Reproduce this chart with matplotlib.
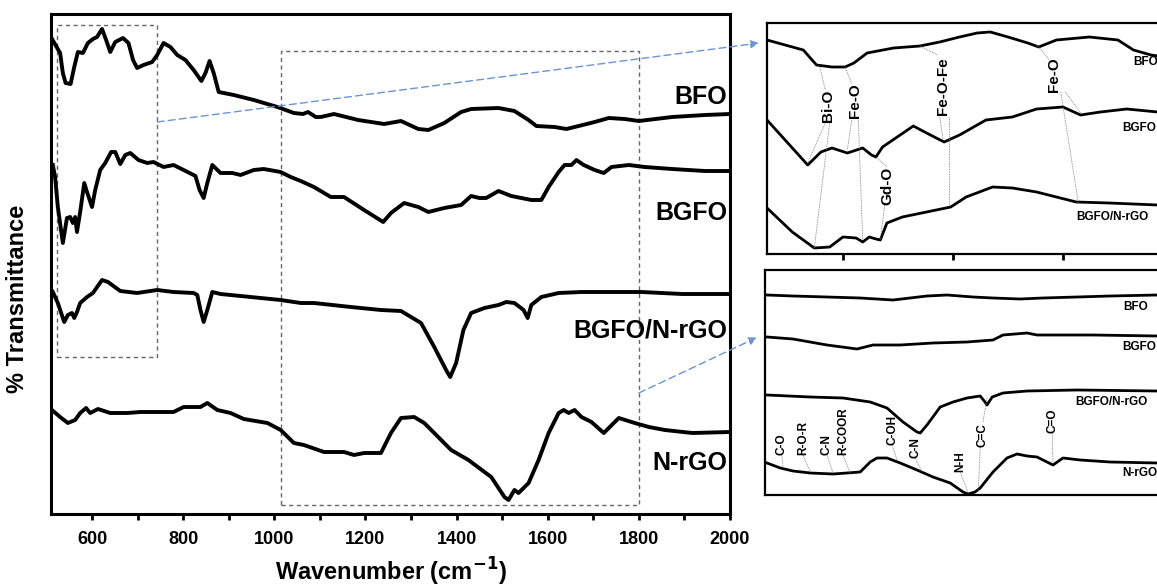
import numpy as np
import matplotlib
matplotlib.use('Agg')
import matplotlib.pyplot as plt
from matplotlib.patches import Rectangle, ConnectionPatch

plt.rcParams['font.family'] = ['Liberation Sans', 'DejaVu Sans']
plt.rcParams['font.weight'] = 'bold'

# ---- main spectra (wavenumber, offset transmittance, arb. units) ----
bfo_wn = [511, 530, 536, 542, 553, 561, 569, 580, 591, 602, 611, 622, 631, 640, 651, 668, 680, 690,
          699, 713, 732, 743, 757, 772, 787, 805, 823, 840, 849, 858, 867, 878, 911, 955, 1007, 1043,
          1063, 1074, 1091, 1102, 1131, 1184, 1241, 1278, 1316, 1338, 1373, 1410, 1432, 1492, 1527,
          1558, 1575, 1615, 1641, 1668, 1703, 1734, 1769, 1800, 1873, 1945, 2000]
bfo_t = [476, 461, 441, 431, 430, 447, 462, 461, 471, 475, 477, 485, 474, 462, 472, 476, 471, 454,
         446, 449, 452, 459, 471, 467, 459, 454, 444, 433, 441, 453, 441, 422, 419, 414, 407, 401,
         400, 402, 397, 397, 400, 394, 390, 393, 385, 384, 391, 402, 405, 406, 403,
         394, 388, 387, 385, 388, 392, 396, 395, 393, 397, 399, 400]

bgfo_wn = [514, 519, 525, 536, 545, 552, 558, 563, 567, 574, 583, 589, 600, 607, 618, 629, 642, 651,
           662, 673, 684, 702, 721, 735, 757, 779, 801, 827, 836, 845, 853, 864, 882, 908, 926, 955,
           977, 1014, 1036, 1058, 1087, 1124, 1153, 1197, 1239, 1256, 1285, 1316, 1338, 1373, 1410,
           1432, 1450, 1465, 1492, 1520, 1564, 1586, 1602, 1624, 1637, 1652, 1663, 1679, 1703, 1723,
           1740, 1778, 1813, 1873, 1945, 2000]
bgfo_t = [349, 337, 307, 271, 296, 297, 291, 297, 282, 302, 331, 322, 307, 324, 344, 351, 362, 362,
          350, 359, 361, 354, 351, 352, 347, 349, 344, 338, 324, 316, 331, 349, 341, 341, 339, 344,
          345, 342, 337, 333, 327, 317, 317, 304, 292, 301, 311, 307, 302, 306, 309,
          318, 316, 316, 323, 318, 314, 314, 327, 342, 349, 349, 354, 349, 344, 341,
          347, 349, 347, 345, 343, 343]

comp_wn = [514, 525, 539, 547, 556, 561, 567, 574, 589, 602, 622, 635, 662, 699, 743, 779, 823, 831,
           838, 845, 853, 864, 882, 948, 1014, 1058, 1087, 1168, 1234, 1278, 1322, 1351, 1377, 1386,
           1399, 1415, 1432, 1461, 1492, 1509, 1527, 1547, 1556, 1564, 1586, 1624, 1674, 1747, 1806,
           1895, 2000]
comp_t = [222, 211, 192, 199, 201, 196, 202, 211, 217, 221, 234, 232, 223, 221, 224, 222, 221, 219,
          204, 192, 204, 222, 220, 217, 214, 211, 211, 207, 204, 203, 191, 167, 144, 137,
          151, 184, 201, 206, 209, 212, 211, 204, 196, 209, 217, 221, 222, 222, 222,
          220, 220]

nrgo_wn = [512, 530, 547, 563, 574, 587, 596, 613, 640, 677, 706, 779, 801, 838, 853, 875, 904, 933,
           985, 1014, 1043, 1065, 1109, 1153, 1175, 1197, 1234, 1256, 1278, 1307, 1329, 1351, 1388,
           1426, 1476, 1505, 1514, 1527, 1536, 1558, 1580, 1602, 1624, 1635, 1646, 1659, 1674, 1696,
           1723, 1756, 1791, 1822, 1857, 1917, 2000]
nrgo_t = [104, 97, 91, 94, 101, 106, 101, 105, 101, 101, 102, 102, 107, 107, 111, 104, 101, 95,
          91, 84, 71, 69, 62, 62, 59, 61, 61, 81, 96, 97, 91, 81, 64,
          54, 37, 17, 14, 24, 21, 31, 54, 81, 101, 104, 101, 104, 97, 92,
          81, 96, 91, 87, 84, 81, 82]

main_labels = ['BFO', 'BGFO', 'BGFO/N-rGO', 'N-rGO']
main_label_y = [417, 301, 184, 51]

# ---- inset 1 : low wavenumber region ----
in1_bfo_wn = [515.5, 532, 538, 545, 551, 555, 561, 573, 585, 594, 603, 611, 617, 625, 634, 639, 647,
              662, 675, 682, 690, 693, 700]
in1_bfo_t = [214, 204, 189, 187, 187, 191, 201, 206, 208, 212, 217, 221, 222, 217, 211, 207, 214,
             217, 214, 204, 199, 198, 197]
in1_bgfo_wn = [515.5, 534, 540, 545, 552, 559, 563, 565, 568, 576, 582, 588, 596, 603, 615, 627, 638,
               650, 658, 667, 679, 693, 700]
in1_bgfo_t = [134, 89, 102, 106, 101, 106, 99, 97, 107, 119, 128, 121, 112, 119, 134, 137, 145,
              147, 139, 142, 145, 142, 142]
in1_comp_wn = [515.5, 527, 537, 544, 550, 556, 559, 562, 565, 567, 570, 577, 588, 599, 606, 618, 627,
               638, 656, 671, 693, 700]
in1_comp_t = [46, 22, 6, 7, 17, 16, 12, 17, 15, 14, 31, 37, 42, 47, 57, 67, 66,
              62, 52, 51, 49, 49]
in1_names = ['BFO', 'BGFO', 'BGFO/N-rGO']
in1_name_x = [682, 677, 656]
in1_name_y = [192, 126, 37]
in1_bands = ['Bi-O', 'Fe-O', 'Fe-O-Fe', 'Fe-O', 'Gd-O']
in1_band_x = [543, 555.5, 595.5, 646, 570]
in1_band_y = [132, 136, 139, 162, 49]
in1_leaders = [((539.5, 187), (542, 164)), ((542, 131), (534, 91)), ((544, 131), (537, 6)),
               ((551, 187), (554, 170)), ((554, 134), (552, 104)), ((557, 134), (559, 14)),
               ((585, 208), (593, 199)), ((594, 137), (595.5, 114)), ((598, 137), (598, 49)),
               ((638, 209), (644, 194)), ((651, 162), (658, 141)), ((649, 162), (657, 51)),
               ((570, 87), (565, 97)), ((569, 49), (567, 14))]

# ---- inset 2 : 1000-2000 cm-1 region ----
in2_bfo_wn = [1005, 1070, 1155, 1238, 1320, 1405, 1455, 1520, 1570, 1638, 1695, 1780, 1863, 1980, 2020]
in2_bfo_t = [200, 199, 198, 197, 195, 199, 200, 198, 197, 196, 197, 198, 199, 200, 200]
in2_bgfo_wn = [1005, 1070, 1155, 1230, 1270, 1338, 1420, 1505, 1570, 1595, 1655, 1680, 1738, 1820,
               1980, 2020]
in2_bgfo_t = [158, 156, 150, 146, 150, 150, 152, 153, 155, 160, 162, 160, 160, 160, 159, 159]
in2_comp_wn = [1005, 1113, 1195, 1263, 1305, 1345, 1380, 1388, 1405, 1438, 1470, 1505, 1538, 1550,
               1555, 1568, 1595, 1655, 1780, 1980, 2020]
in2_comp_t = [100, 98, 97, 93, 87, 73, 63, 62, 70, 88, 93, 97, 99, 93, 90, 98, 102, 104, 105, 104, 104]
in2_nrgo_wn = [1005, 1038, 1070, 1113, 1170, 1205, 1238, 1263, 1280, 1305, 1338, 1380, 1420, 1463,
               1495, 1508, 1525, 1538, 1570, 1605, 1630, 1655, 1680, 1720, 1745, 1788, 1863, 1980, 2020]
in2_nrgo_t = [32, 27, 24, 22, 21, 22, 23, 33, 37, 37, 32, 25, 18, 12, 3, 1, 3, 7, 23, 37, 41, 39, 38,
              30, 37, 35, 33, 32, 32]
in2_names = ['BFO', 'BGFO', 'BGFO/N-rGO', 'N-rGO']
in2_name_x = [1895, 1893, 1775, 1893]
in2_name_y = [188, 148, 93, 22]
in2_bands = ['C-O', 'R-O-R', 'C-N', 'R-COOR', 'C-OH', 'C-N', 'N-H', 'C=C', 'C=O']
in2_band_x = [1042, 1095, 1155, 1195, 1318, 1375, 1488, 1543, 1718]
in2_band_y = [40, 40, 40, 40, 50, 37, 23, 48, 62]
in2_leaders = [((1042, 40), (1045, 28)), ((1095, 40), (1113, 23)), ((1155, 40), (1170, 22)),
               ((1195, 40), (1213, 22)), ((1318, 50), (1330, 35)), ((1375, 37), (1393, 23)),
               ((1488, 23), (1508, 2)), ((1545, 73), (1555, 97)), ((1538, 48), (1533, 3)),
               ((1718, 62), (1720, 32))]

W, H = 1157, 586
fig = plt.figure(figsize=(W / 100, H / 100), dpi=100)

# main axes
ax = fig.add_axes([51 / W, 72 / H, 679 / W, 500 / H])
for wn, t in [(bfo_wn, bfo_t), (bgfo_wn, bgfo_t), (comp_wn, comp_t), (nrgo_wn, nrgo_t)]:
    ax.plot(wn, t, color='black', lw=2.8, solid_joinstyle='round')
ax.set_xlim(510, 2000)
ax.set_ylim(0, 500)
ax.set_yticks([])
ax.set_xticks(np.arange(600, 2001, 200))
ax.set_xticks(np.arange(700, 2000, 200), minor=True)
ax.tick_params(axis='x', which='both', direction='out', length=4, width=2, labelsize=13, pad=8)
for lab in ax.get_xticklabels():
    lab.set_fontweight('bold')
for sp in ax.spines.values():
    sp.set_linewidth(2.2)
ax.set_xlabel('Wavenumber (cm$^{\\mathbf{-1}}$)', fontsize=17, fontweight='bold', labelpad=6)
ax.set_ylabel('% Transmittance', fontsize=17, fontweight='bold')
ax.yaxis.set_label_coords(-0.032, 0.43)
for name, y in zip(main_labels, main_label_y):
    ax.text(1994, y, name, ha='right', va='center', fontsize=18, fontweight='bold')

box_style = dict(fill=False, ec='#666666', lw=1.0, ls=(0, (3, 2.5)))
ax.add_patch(Rectangle((523, 157), 220, 332, **box_style))
ax.add_patch(Rectangle((1014, 9), 786, 454, **box_style))

# inset 1
ax1 = fig.add_axes([767 / W, (H - 254) / H, 406 / W, 231 / H])
for wn, t in [(in1_bfo_wn, in1_bfo_t), (in1_bgfo_wn, in1_bgfo_t), (in1_comp_wn, in1_comp_t)]:
    ax1.plot(wn, t, color='black', lw=2.0, solid_joinstyle='round')
ax1.set_xlim(515.5, 700)
ax1.set_ylim(0, 231)
ax1.set_yticks([])
ax1.set_xticks([550, 600, 650])
ax1.set_xticklabels([])
ax1.tick_params(axis='x', direction='out', length=4, width=2)
for sp in ax1.spines.values():
    sp.set_linewidth(1.6)
for name, x, y in zip(in1_names, in1_name_x, in1_name_y):
    ax1.text(x, y, name, ha='left', va='center', fontsize=8.5, fontweight='bold', clip_on=False)
for (p0, p1) in in1_leaders:
    ax1.plot([p0[0], p1[0]], [p0[1], p1[1]], color='#777777', lw=0.6, ls=(0, (1, 1)))
for name, x, y in zip(in1_bands, in1_band_x, in1_band_y):
    ax1.text(x, y, name, rotation=90, ha='center', va='bottom', fontsize=11, fontweight='bold')

# inset 2
ax2 = fig.add_axes([765 / W, (H - 495) / H, 408 / W, 225 / H])
for wn, t in [(in2_bfo_wn, in2_bfo_t), (in2_bgfo_wn, in2_bgfo_t), (in2_comp_wn, in2_comp_t),
              (in2_nrgo_wn, in2_nrgo_t)]:
    ax2.plot(wn, t, color='black', lw=2.0, solid_joinstyle='round')
ax2.set_xlim(1000, 2020)
ax2.set_ylim(0, 225)
ax2.set_xticks([])
ax2.set_yticks([])
for sp in ax2.spines.values():
    sp.set_linewidth(1.6)
for name, x, y in zip(in2_names, in2_name_x, in2_name_y):
    ax2.text(x, y, name, ha='left', va='center', fontsize=8.5, fontweight='bold')
for (p0, p1) in in2_leaders:
    ax2.plot([p0[0], p1[0]], [p0[1], p1[1]], color='#777777', lw=0.6, ls=(0, (1, 1)))
for name, x, y in zip(in2_bands, in2_band_x, in2_band_y):
    ax2.text(x, y, name, rotation=90, ha='center', va='bottom', fontsize=8.5, fontweight='bold')

# blue dashed arrows from the boxes to the insets
arrow_kw = dict(arrowstyle='-|>', color='#6b93d6', lw=1.0, ls=(0, (5, 3)), mutation_scale=12)
fig.add_artist(ConnectionPatch(xyA=(743, 392), coordsA=ax.transData,
                               xyB=(-0.02, 0.913), coordsB=ax1.transAxes, **arrow_kw))
fig.add_artist(ConnectionPatch(xyA=(1800, 121), coordsA=ax.transData,
                               xyB=(-0.02, 0.70), coordsB=ax2.transAxes, **arrow_kw))

fig.savefig('out.png', dpi=100)
